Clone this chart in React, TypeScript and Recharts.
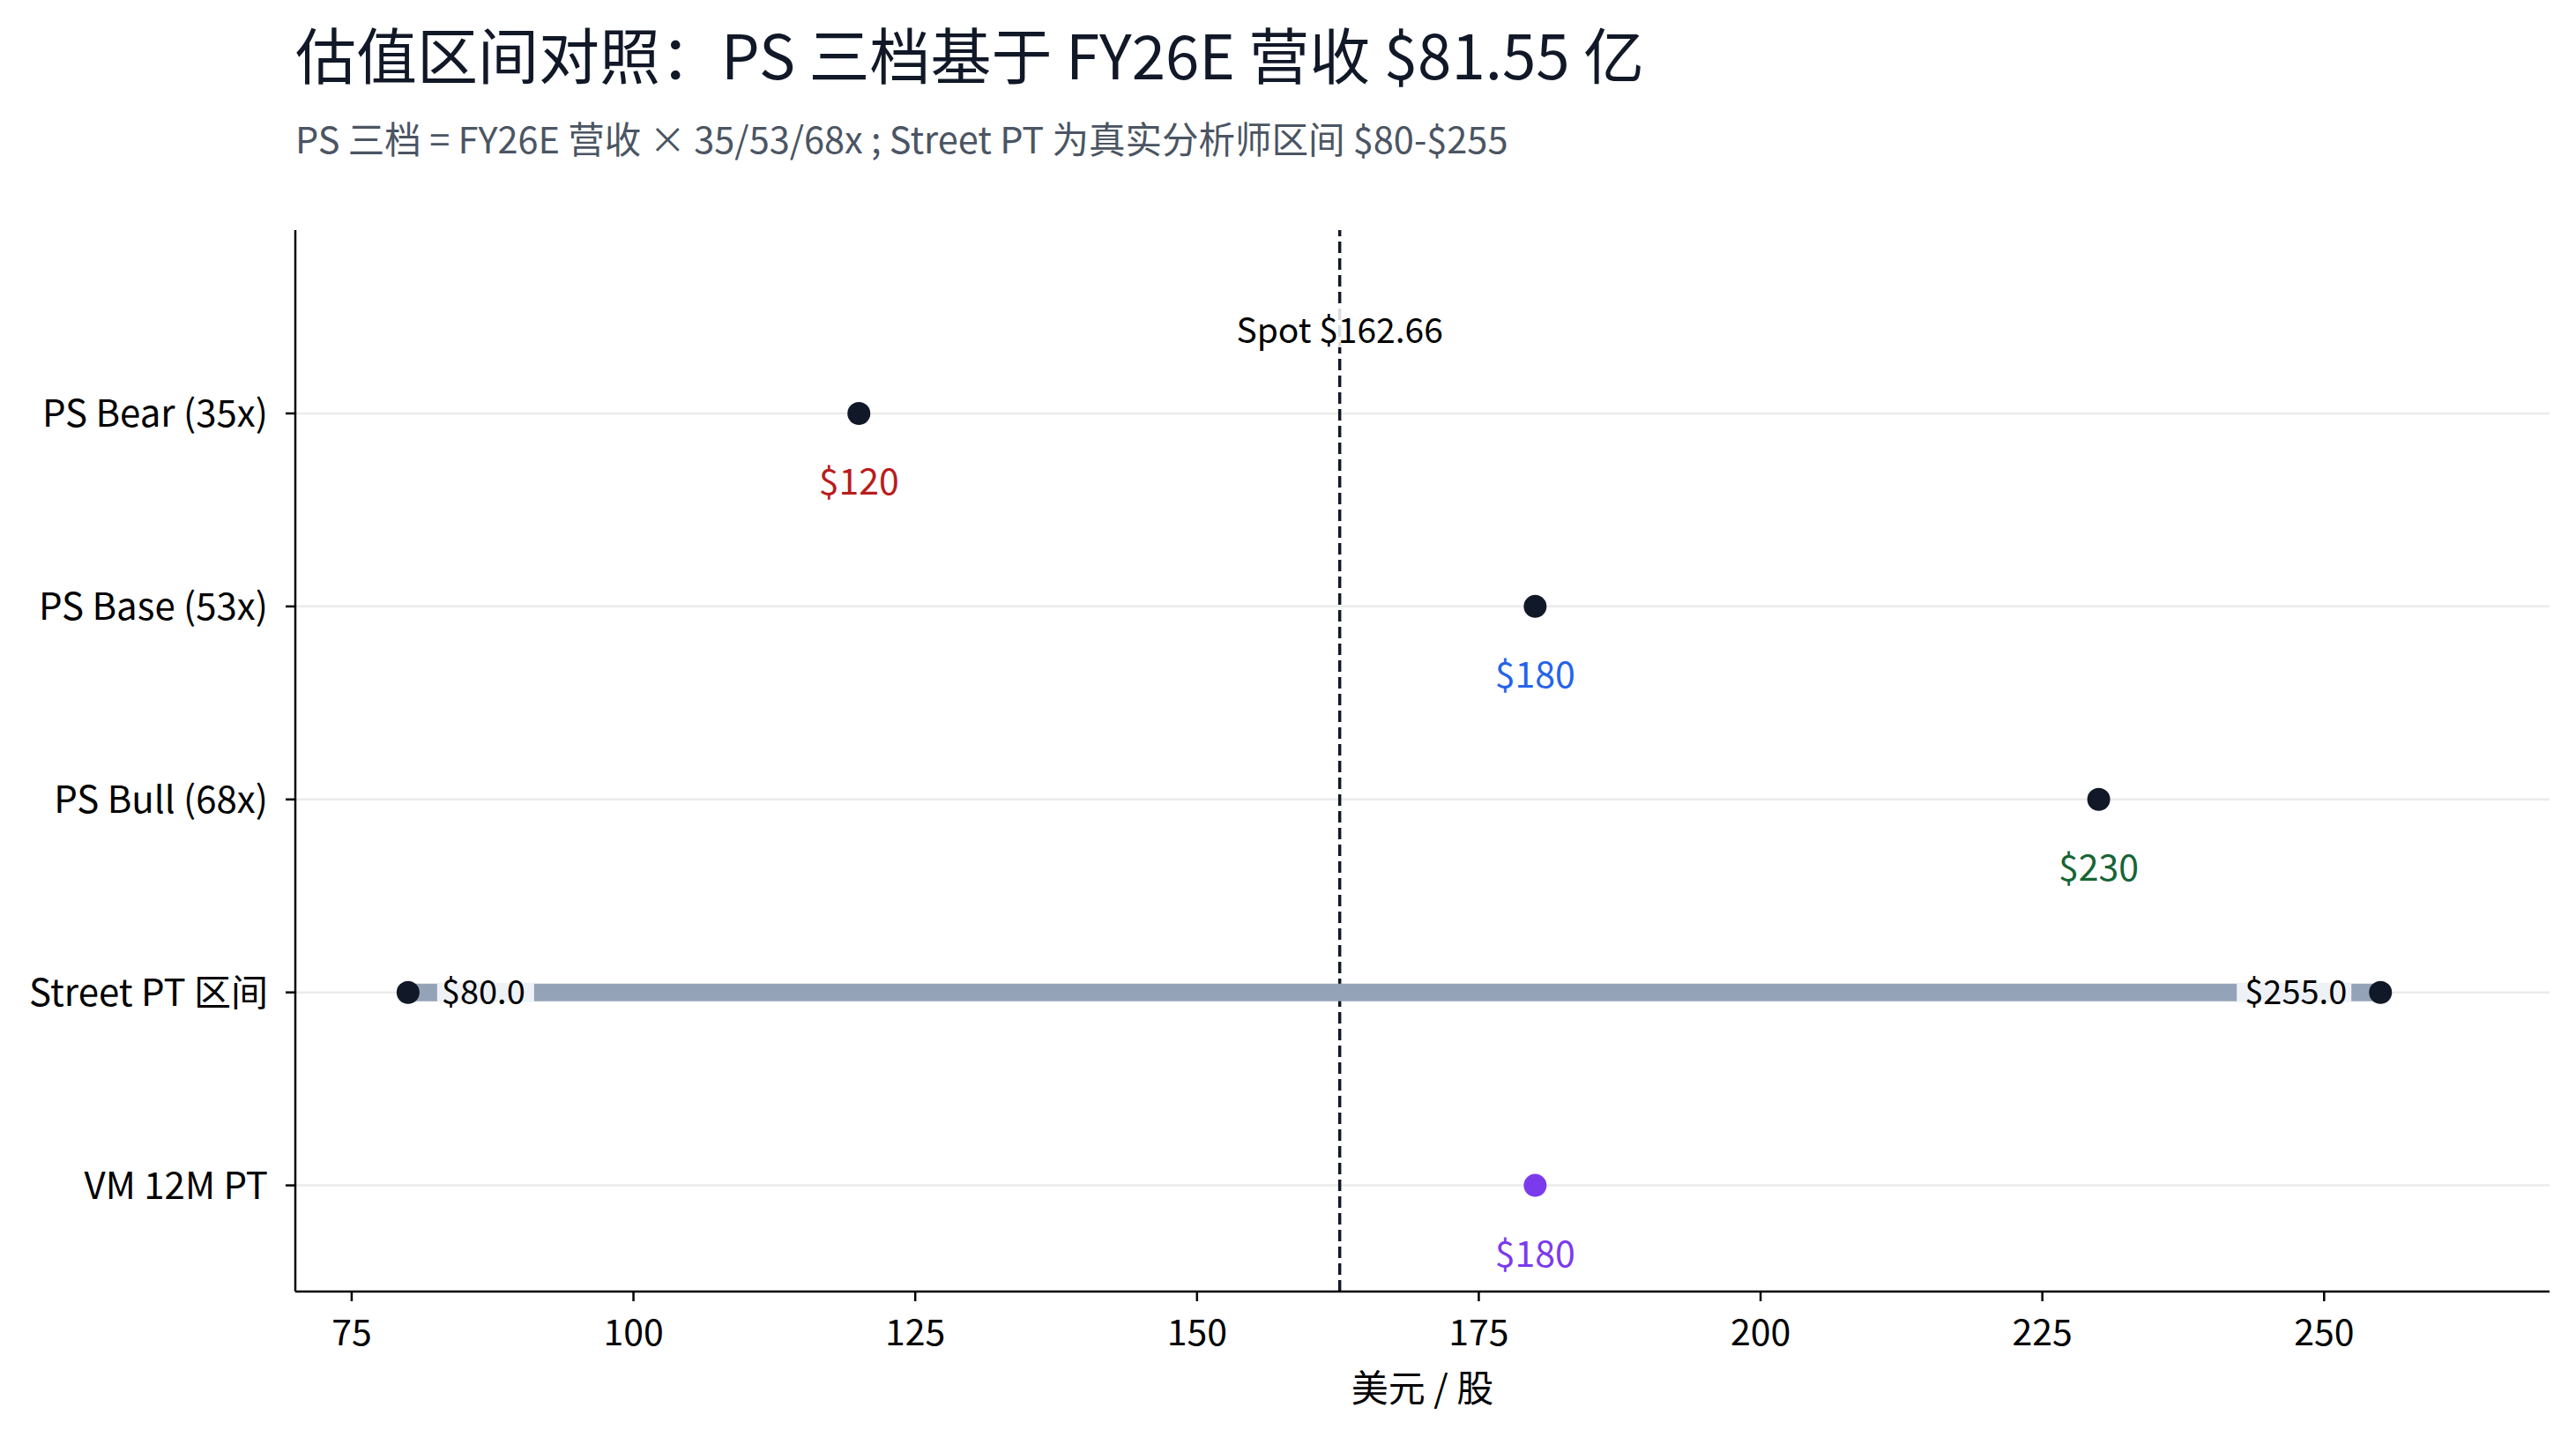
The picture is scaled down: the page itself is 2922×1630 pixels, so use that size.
import React from "react";
import {
  ScatterChart,
  Scatter,
  XAxis,
  YAxis,
  CartesianGrid,
  ReferenceLine,
} from "recharts";

const FONT = '"Noto Sans CJK SC", "Noto Sans", sans-serif';

const categories = ["PS Bear (35x)", "PS Base (53x)", "PS Bull (68x)", "Street PT 区间", "VM 12M PT"];
const psValues = [120, 180, 230];
const psLabelColors = ["#b91c1c", "#2563eb", "#166534"];
const streetRange = [80, 255];
const vmTarget = 180;
const spotPrice = 162.66;
const xTicks = [75, 100, 125, 150, 175, 200, 225, 250];
const rowTicks = [0, 1, 2, 3, 4];
const Y_DOMAIN = [-0.95, 4.55];

const psData = psValues.map((v, i) => ({ x: v, y: i, color: psLabelColors[i] }));
const streetData = streetRange.map((v, j) => ({ x: v, y: 3, side: j }));
const vmData = [{ x: vmTarget, y: 4, color: "#7c3aed" }];

const W = 2906;
const H = 1614;

// grid rows only at the category ticks (reversed axis: min at top)
function rowLines({ offset }: any) {
  if (!offset) return [];
  const span = Y_DOMAIN[1] - Y_DOMAIN[0];
  return rowTicks.map((t) => offset.top + ((t - Y_DOMAIN[0]) / span) * offset.height);
}

// dot with its price written underneath
function LabeledDot(props: any) {
  const { cx, cy, payload, dotFill } = props;
  if (cx == null || cy == null) return null;
  return (
    <g>
      <circle cx={cx} cy={cy} r={13} fill={dotFill} />
      <text
        x={cx}
        y={cy + 74}
        textAnchor="middle"
        dominantBaseline="central"
        fontSize={41}
        fontFamily={FONT}
        fill={payload.color}
      >
        ${payload.x}
      </text>
    </g>
  );
}

// street range ends: dot + boxed value over the bar
function StreetEnd(props: any) {
  const { cx, cy, payload } = props;
  if (cx == null || cy == null) return null;
  const label = `$${payload.x.toFixed(1)}`;
  const left = payload.side === 0;
  const boxW = label.length * 20 + 10;
  const boxX = left ? cx + 33 : cx - 33 - boxW;
  return (
    <g>
      <rect x={boxX} y={cy - 11} width={boxW} height={22} fill="#eef2f6" />
      <text
        x={left ? boxX + 5 : boxX + boxW - 5}
        y={cy - 3}
        textAnchor={left ? "start" : "end"}
        dominantBaseline="central"
        fontSize={38}
        fontFamily={FONT}
        fill="#000"
      >
        {label}
      </text>
      <circle cx={cx} cy={cy} r={13} fill="#111827" />
    </g>
  );
}

function SpotLabel(props: any) {
  const { viewBox } = props;
  const x = viewBox.x;
  const y = viewBox.y + 111;
  return (
    <g>
      <rect x={x - 125} y={y - 22} width={250} height={44} fill="#fff" fillOpacity={0.85} />
      <text
        x={x}
        y={y}
        textAnchor="middle"
        dominantBaseline="central"
        fontSize={39}
        fontFamily={FONT}
        fill="#000"
      >
        Spot ${spotPrice}
      </text>
    </g>
  );
}

export default function App() {
  return (
    <div style={{ position: "relative", width: W, height: H, background: "#fff", fontFamily: FONT }}>
      <div
        style={{
          position: "absolute",
          left: 327,
          top: 10,
          fontSize: 69,
          lineHeight: "84px",
          color: "#111827",
          whiteSpace: "nowrap",
        }}
      >
        估值区间对照：PS 三档基于 FY26E 营收 $81.55 亿
      </div>
      <div
        style={{
          position: "absolute",
          left: 327,
          top: 122,
          fontSize: 41.5,
          lineHeight: "52px",
          color: "#4b5563",
          whiteSpace: "nowrap",
        }}
      >
        PS 三档 = FY26E 营收 × 35/53/68x ; Street PT 为真实分析师区间 $80-$255
      </div>
      <ScatterChart
        width={W}
        height={H}
        margin={{ top: 253, right: 22, bottom: 32, left: 0 }}
        style={{ position: "absolute", left: 0, top: 0 }}
      >
        <CartesianGrid
          horizontal
          vertical={false}
          stroke="#ebebeb"
          strokeWidth={2.5}
          horizontalCoordinatesGenerator={rowLines}
        />
        <XAxis
          type="number"
          dataKey="x"
          domain={[70, 270]}
          ticks={xTicks}
          allowDataOverflow
          height={125}
          stroke="#000"
          strokeWidth={2.5}
          tickSize={11}
          tickMargin={21}
          tick={{ fontSize: 41, fontFamily: FONT, fill: "#000" }}
          label={{
            value: "美元 / 股",
            position: "insideBottom",
            offset: 0,
            fontSize: 42,
            fontFamily: FONT,
            fill: "#000",
          }}
        />
        <YAxis
          type="number"
          dataKey="y"
          domain={Y_DOMAIN}
          ticks={rowTicks}
          reversed
          allowDataOverflow
          interval={0}
          width={327}
          stroke="#000"
          strokeWidth={2.5}
          tickSize={11}
          tickMargin={20}
          tickFormatter={(i: number) => categories[i] ?? ""}
          tick={{ fontSize: 42, fontFamily: FONT, fill: "#000" }}
        />
        <Scatter
          data={streetData}
          line={{ stroke: "#94a3b8", strokeWidth: 20 }}
          shape={(p: any) => <StreetEnd {...p} />}
          isAnimationActive={false}
        />
        <Scatter
          data={psData}
          shape={(p: any) => <LabeledDot {...p} dotFill="#111827" />}
          isAnimationActive={false}
        />
        <Scatter
          data={vmData}
          shape={(p: any) => <LabeledDot {...p} dotFill="#7c3aed" />}
          isAnimationActive={false}
        />
        <ReferenceLine
          x={spotPrice}
          stroke="#111827"
          strokeWidth={3.5}
          strokeDasharray="13 6"
          label={(p: any) => <SpotLabel {...p} />}
        />
      </ScatterChart>
    </div>
  );
}
